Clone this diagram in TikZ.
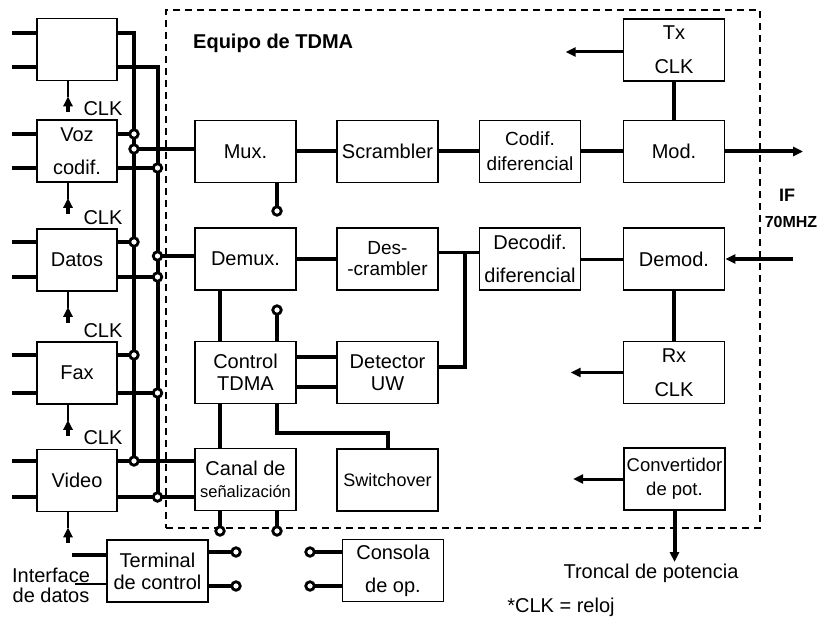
\documentclass[tikz,border=0pt]{standalone}
\usepackage{fontspec}
\setmainfont{Liberation Sans}
\usetikzlibrary{arrows.meta}
\begin{document}
\begin{tikzpicture}[x=1pt,y=-1pt,
  box/.style={draw, line width=1.6pt, minimum width=101pt, minimum height=62pt, inner sep=0pt, align=center, font=\fontsize{20}{22}\selectfont},
  lbox/.style={box, minimum width=80pt},
  thk/.style={line width=4pt},
  med/.style={line width=3pt},
  thn/.style={line width=2pt},
  dotc/.style={circle, draw, fill=white, line width=2.8pt, minimum size=8.5pt, inner sep=0pt},
  tip/.style={-{Triangle[length=10pt,width=9pt]}},
  lbl/.style={font=\fontsize{20}{22}\selectfont, inner sep=0pt},
]
\useasboundingbox (0,0) rectangle (818,620);

% dashed frame and title
\node[draw, line width=1.4pt, dash pattern=on 7pt off 5pt, minimum width=594pt, minimum height=518pt, inner sep=0pt] (frame) at (463,269) {};
\node[font=\bfseries\fontsize{20}{22}\selectfont, anchor=west, inner sep=0pt] (title) at (193,43) {Equipo de TDMA};

% left boxes
\node[lbox] (b1) at (77,49.5) {};
\node[lbox, font=\fontsize{20}{33}\selectfont] (voz) at (77,151) {Voz\\codif.};
\node[lbox] (datos) at (77,260) {Datos};
\node[lbox] (fax) at (77,373) {Fax};
\node[lbox] (video) at (77,480.5) {Video};

% TDMA boxes
\node[box] (mux) at (245.5,151.5) {Mux.};
\node[box] (scr) at (387.5,151.5) {Scrambler};
\node[box, font=\fontsize{19}{25}\selectfont] (cod) at (530,151.5) {Codif.\\diferencial};
\node[box] (mod) at (674,151.5) {Mod.};
\node[box, font=\fontsize{20}{34}\selectfont] (tx) at (674,50) {Tx\\CLK};
\node[box] (demux) at (245.5,259) {Demux.};
\node[box, font=\fontsize{19}{21}\selectfont] (des) at (387.5,259) {Des-\\-crambler};
\node[box, font=\fontsize{20}{33}\selectfont] (dec) at (530,259) {Decodif.\\diferencial};
\node[box] (dem) at (674,259) {Demod.};
\node[box] (ctrl) at (245.5,372.5) {Control\\TDMA};
\node[box] (det) at (387.5,372.5) {Detector\\UW};
\node[box, font=\fontsize{20}{34}\selectfont] (rx) at (674,372.5) {Rx\\CLK};
\node[box] (canal) at (245.5,479.5) {Canal de\\{\fontsize{16.5}{22}\selectfont señalización}};
\node[box, font=\fontsize{18}{22}\selectfont] (sw) at (387.5,480) {\raisebox{-6pt}{Switchover}};
\node[box, font=\fontsize{18.5}{24}\selectfont] (conv) at (674.5,479) {Convertidor\\de pot.};
\node[box] (term) at (157.5,571) {Terminal\\de control};
\node[box, font=\fontsize{20}{33}\selectfont] (cons) at (393,570.5) {Consola\\de op.};

% coordinates
\coordinate (lbB) at (134,461);
\coordinate (rbB) at (157.5,497);
\coordinate (j1) at (134,134);
\coordinate (j2) at (134,149);
\coordinate (j3) at (157.5,168);
\coordinate (j4) at (134,242);
\coordinate (j5) at (157.5,256);
\coordinate (j6) at (157.5,277);
\coordinate (j7) at (134,355);
\coordinate (j8) at (157.5,393);
\coordinate (mc1) at (277,211);
\coordinate (cc1) at (277,310);
\coordinate (cb1) at (220,531);
\coordinate (cb2) at (277,531);
\coordinate (tc1) at (236,552);
\coordinate (tc2) at (236,586);
\coordinate (cc2) at (310,552);
\coordinate (cc3) at (310,586);
\coordinate (ti1) at (72,555);
\coordinate (ti2) at (75,584);
\coordinate (ifout) at (803,151.5);
\coordinate (ifin) at (793,259);
\coordinate (dj) at (465,252);
\coordinate (pwr) at (674.5,562);

% inputs on the left
\foreach \n/\p/\q in {b1/16.5/-17.5, voz/17/-17, datos/18/-17, fax/18/-20, video/19.5/-16.5} {
  \draw[thk] ([yshift=\p pt]\n.west) -- +(-24,0);
  \draw[thk] ([yshift=\q pt]\n.west) -- +(-24,0);
}

% CLK arrows
\foreach \n in {b1,voz,datos,fax,video} {
  \draw[thn] ([xshift=-9pt]\n.south) -- ([xshift=-9pt,yshift=-16pt]\n.south);
  \draw[thk, tip] ([xshift=-9pt,yshift=-31pt]\n.south) -- ([xshift=-9pt,yshift=-15pt]\n.south);
}
\node[lbl] (clk1) at ([xshift=26pt,yshift=11pt]voz.north) {CLK};
\node[lbl] (clk2) at ([xshift=26pt,yshift=11pt]datos.north) {CLK};
\node[lbl] (clk3) at ([xshift=26pt,yshift=11pt]fax.north) {CLK};
\node[lbl] (clk4) at ([xshift=26pt,yshift=11pt]video.north) {CLK};

% buses
\draw[thk] ([yshift=16.5pt]b1.east) -| (lbB);
\draw[thk] ([yshift=-17.5pt]b1.east) -| (rbB);
\draw[thk] (voz.east |- j1) -- (j1);
\draw[thk] (j2) -- (j2 -| mux.west);
\draw[thk] (voz.east |- j3) -- (j3);
\draw[thk] (datos.east |- j4) -- (j4);
\draw[thk] (j5) -- (j5 -| demux.west);
\draw[thk] (datos.east |- j6) -- (j6);
\draw[thk] (fax.east |- j7) -- (j7);
\draw[thk] (fax.east |- j8) -- (j8);
\draw[thk] (video.east |- lbB) -- (lbB -| canal.west);
\draw[thk] (video.east |- rbB) -- (rbB -| canal.west);

% row 1
\draw[thk] (mux) -- (scr);
\draw[thk] (scr) -- (cod);
\draw[thk] (cod) -- (mod);
\draw[thk, tip] (mod.east) -- (ifout);
\draw[thk] (tx) -- (mod);
\draw[med, tip] ([yshift=-2pt]tx.west) -- +(-57,0);
\draw[thk] ([xshift=31.5pt]mux.south) -- (mc1);

% row 2
\draw[thk] (demux) -- (des);
\draw[med] (des.east |- dj) -- (dec.west |- dj);
\draw[thk] (dj) |- ([yshift=5.5pt]det.east);
\draw[med] (dec) -- (dem);
\draw[thk, tip] (ifin) -- (dem.east);
\draw[thk] (dem) -- (rx);
\draw[med, tip] (rx.west) -- +(-52,0);

% row 3
\draw[thk] ([xshift=-25.5pt]demux.south) -- ([xshift=-25.5pt]ctrl.north);
\draw[thk] ([xshift=31.5pt]ctrl.north) -- (cc1);
\draw[thk] ([yshift=15.5pt]ctrl.east) -- ([yshift=15.5pt]det.west);
\draw[thk] ([yshift=-14.5pt]ctrl.east) -- ([yshift=-14.5pt]det.west);
\draw[thk] ([xshift=-25.5pt]ctrl.south) -- ([xshift=-25.5pt]canal.north);
\draw[thk] ([xshift=31.5pt]ctrl.south) -- ++(0,29) -| (sw.north);

% row 4
\draw[thk] ([xshift=-25.5pt]canal.south) -- (cb1);
\draw[thk] ([xshift=31.5pt]canal.south) -- (cb2);
\draw[med, tip] (conv.west) -- +(-50,0);
\draw[thk, tip] (conv.south) -- (pwr);

% bottom
\draw[thk] (term.east |- tc1) -- (tc1);
\draw[thk] (term.east |- tc2) -- (tc2);
\draw[thk] (ti1) -- (ti1 -| term.west);
\draw[thn] (ti2) -- (ti2 -| term.west);
\draw[thk] (cc2) -- (cc2 -| cons.west);
\draw[thk] (cc3) -- (cc3 -| cons.west);

% texts
\node[lbl, align=center, font=\fontsize{20}{20}\selectfont] (iface) at (51,585) {Interface\\de datos};
\node[lbl] (tronc) at (651,573) {Troncal de potencia};
\node[lbl] (nota) at (561,607) {*CLK = reloj};
\node[font=\bfseries\fontsize{18}{20}\selectfont, inner sep=0pt] (iflbl) at (787,195) {IF};
\node[font=\bfseries\fontsize{16}{20}\selectfont, inner sep=0pt] (mhz) at (791,222) {70MHZ};

% terminal circles
\foreach \c in {j1,j2,j3,j4,j5,j6,j7,j8,lbB,rbB,mc1,cc1,cb1,cb2,tc1,tc2,cc2,cc3}
  \node[dotc] (d-\c) at (\c) {};
\end{tikzpicture}
\end{document}
